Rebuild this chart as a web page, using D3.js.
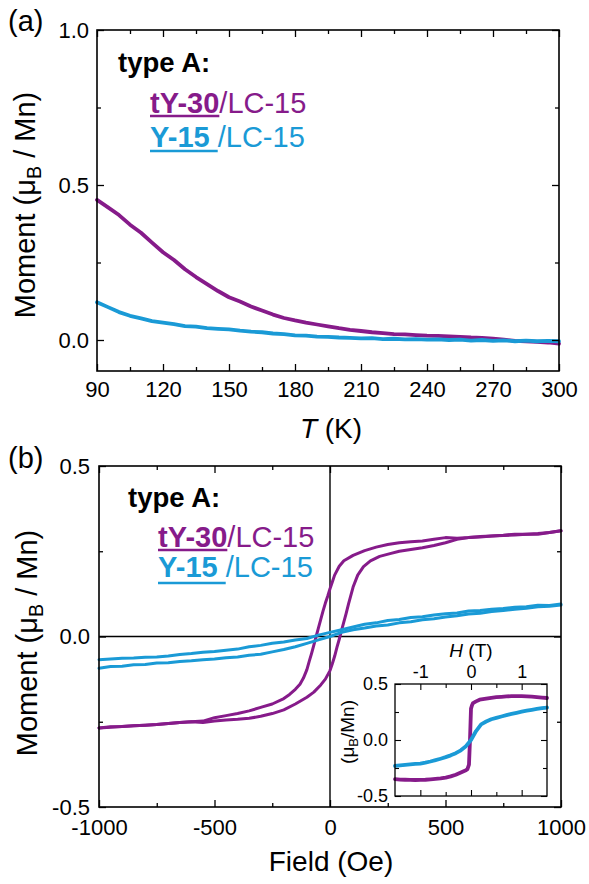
<!DOCTYPE html>
<html>
<head>
<meta charset="utf-8">
<script src="https://cdn.jsdelivr.net/npm/d3@7"></script>
<style>
  body { margin: 0; background: #fff; }
  svg text { font-family: "Liberation Sans", Arial, sans-serif; }
</style>
</head>
<body>
<div id="chart"></div>
<script>
// ---- data ----
const purple = "#861b8a", blue = "#1a9ad6";
const legendTitle = "type A:";
const sampleNames = ["tY-30", "Y-15 "];
const sampleSuffix = "/LC-15";

// (a) moment vs temperature
const tempK = [90,95,100,105,110,115,120,125,130,135,140,145,150,155,160,165,170,175,180,185,190,195,200,
  205,210,215,220,225,230,235,240,245,250,255,260,265,270,275,280,285,290,295,300];
const momentTY30 = [0.452,0.428,0.403,0.372,0.346,0.314,0.283,0.258,0.228,0.203,0.180,0.158,0.138,0.124,0.108,
  0.095,0.082,0.071,0.063,0.056,0.050,0.044,0.038,0.033,0.029,0.025,0.022,0.019,0.018,0.016,0.014,0.013,0.012,
  0.010,0.008,0.007,0.004,0.001,-0.003,-0.004,-0.006,-0.008,-0.012];
const momentY15 = [0.122,0.106,0.090,0.078,0.070,0.061,0.056,0.051,0.045,0.043,0.038,0.036,0.034,0.030,0.027,
  0.025,0.021,0.019,0.015,0.014,0.011,0.010,0.008,0.007,0.005,0.006,0.003,0.004,0.002,0.003,0.001,0.002,0.000,
  0.001,-0.002,0.000,-0.003,-0.001,-0.004,-0.002,-0.004,-0.003,-0.004];

// (b) hysteresis loops, field in Oe
const fieldTY30Down = [1000,950,900,850,800,750,700,650,600,550,500,450,400,350,300,250,200,150,100,60,40,20,10,0,
  -10,-20,-30,-40,-50,-60,-70,-80,-90,-100,-115,-130,-150,-175,-200,-250,-300,-350,-400,-450,-500,-550,-600,
  -650,-700,-750,-800,-850,-900,-950,-1000];
const momentTY30Down = [0.31,0.305,0.30,0.30,0.298,0.296,0.295,0.293,0.29,0.288,0.29,0.285,0.28,0.278,0.275,0.27,
  0.262,0.252,0.238,0.222,0.206,0.18,0.16,0.14,0.118,0.098,0.075,0.05,0.025,0.0,-0.025,-0.05,-0.073,-0.097,
  -0.122,-0.14,-0.155,-0.17,-0.182,-0.198,-0.208,-0.218,-0.226,-0.232,-0.238,-0.248,-0.25,-0.252,-0.255,-0.258,
  -0.26,-0.262,-0.264,-0.265,-0.268];
const fieldTY30Up = [-1000,-950,-900,-850,-800,-750,-700,-650,-600,-550,-500,-450,-400,-350,-300,-250,-200,-150,
  -100,-70,-40,-20,0,10,20,30,40,50,60,70,80,90,100,120,145,175,215,260,300,350,400,450,500,550,600,650,700,
  750,800,850,900,950,1000];
const momentTY30Up = [-0.268,-0.266,-0.264,-0.262,-0.26,-0.258,-0.255,-0.252,-0.25,-0.252,-0.248,-0.245,-0.243,
  -0.24,-0.234,-0.226,-0.215,-0.198,-0.178,-0.163,-0.142,-0.125,-0.1,-0.08,-0.058,-0.032,-0.008,0.018,0.043,
  0.068,0.095,0.12,0.145,0.18,0.205,0.222,0.235,0.243,0.25,0.255,0.26,0.267,0.275,0.285,0.29,0.292,0.295,
  0.297,0.30,0.30,0.302,0.305,0.31];
const fieldY15Down = [1000,950,900,850,800,750,700,650,600,550,500,450,400,350,300,250,200,150,100,50,0,
  -50,-100,-150,-200,-250,-300,-350,-400,-450,-500,-550,-600,-650,-700,-750,-800,-850,-900,-950,-1000];
const momentY15Down = [0.095,0.091,0.092,0.087,0.086,0.082,0.080,0.076,0.075,0.069,0.067,0.063,0.058,0.056,
  0.050,0.047,0.040,0.036,0.028,0.020,0.012,0.004,-0.006,-0.010,-0.016,-0.020,-0.026,-0.030,-0.037,-0.040,
  -0.044,-0.046,-0.050,-0.053,-0.057,-0.060,-0.061,-0.063,-0.064,-0.066,-0.068];
const fieldY15Up = [-1000,-950,-900,-850,-800,-750,-700,-650,-600,-550,-500,-450,-400,-350,-300,-250,-200,-150,
  -100,-50,0,50,100,150,200,250,300,350,400,450,500,550,600,650,700,750,800,850,900,950,1000];
const momentY15Up = [-0.093,-0.088,-0.087,-0.083,-0.082,-0.078,-0.077,-0.073,-0.071,-0.068,-0.066,-0.062,-0.060,
  -0.055,-0.052,-0.045,-0.038,-0.030,-0.020,-0.010,0.000,0.012,0.020,0.025,0.031,0.034,0.040,0.043,0.049,
  0.052,0.057,0.061,0.066,0.068,0.073,0.076,0.080,0.083,0.087,0.089,0.092];

// inset, field in tesla
const insetFieldTY30 = [-1.5,-1.4,-1.3,-1.2,-1.1,-1.0,-0.9,-0.8,-0.7,-0.6,-0.5,-0.4,-0.3,-0.2,-0.1,-0.07,-0.04,
  -0.02,0.0,0.02,0.04,0.1,0.17,0.3,0.4,0.5,0.6,0.7,0.8,0.9,1.0,1.1,1.2,1.3,1.4,1.5];
const insetMomentTY30 = [-0.35,-0.353,-0.355,-0.356,-0.357,-0.356,-0.355,-0.352,-0.348,-0.343,-0.335,-0.325,
  -0.31,-0.29,-0.27,-0.26,-0.22,0.0,0.28,0.31,0.33,0.345,0.36,0.37,0.377,0.382,0.386,0.389,0.391,0.392,0.392,
  0.39,0.387,0.383,0.379,0.375];
const insetFieldY15 = [-1.5,-1.4,-1.3,-1.2,-1.1,-1.0,-0.9,-0.8,-0.7,-0.6,-0.5,-0.4,-0.3,-0.2,-0.1,0.0,0.1,0.2,
  0.3,0.4,0.5,0.6,0.7,0.8,0.9,1.0,1.1,1.2,1.3,1.4,1.5];
const insetMomentY15 = [-0.232,-0.226,-0.222,-0.218,-0.214,-0.21,-0.202,-0.192,-0.18,-0.167,-0.153,-0.137,
  -0.118,-0.092,-0.055,0.0,0.08,0.14,0.165,0.185,0.198,0.21,0.222,0.233,0.243,0.253,0.262,0.27,0.277,0.284,0.29];

// ---- drawing ----
const W = 589, H = 884;
const svg = d3.select("#chart").append("svg").attr("width", W).attr("height", H);

const fmt1 = d => d.toFixed(1);
const fmt0 = d => String(d);

// frame with inward ticks on four sides
function frameAxes(x, y, o) {
  const [x0, x1] = x.range(), [y0, y1] = y.range();
  const g = svg.append("g");
  const add = (axis, tr, vals, size, fmt, pad) => {
    const a = g.append("g").attr("transform", tr)
      .call(axis.tickValues(vals).tickSize(-size).tickPadding(pad).tickFormat(fmt));
    a.select(".domain").remove();
    a.selectAll("line").attr("stroke", "#000").attr("stroke-width", o.tickW);
    a.selectAll("text").attr("fill", "#000").attr("font-size", o.font);
    return a;
  };
  add(d3.axisBottom(x), `translate(0,${y0})`, o.xMajor, o.major, o.bottomFmt || (() => ""), o.padX);
  add(d3.axisBottom(x), `translate(0,${y0})`, o.xMinor, o.minor, () => "", 0);
  add(d3.axisTop(x), `translate(0,${y1})`, o.xMajor, o.major, o.topFmt || (() => ""), o.padX);
  add(d3.axisTop(x), `translate(0,${y1})`, o.xMinor, o.minor, () => "", 0);
  add(d3.axisLeft(y), `translate(${x0},0)`, o.yMajor, o.major, fmt1, o.padY);
  add(d3.axisLeft(y), `translate(${x0},0)`, o.yMinor, o.minor, () => "", 0);
  add(d3.axisRight(y), `translate(${x1},0)`, o.yMajor, o.major, () => "", 0);
  add(d3.axisRight(y), `translate(${x1},0)`, o.yMinor, o.minor, () => "", 0);
  g.append("rect").attr("x", x0).attr("y", y1).attr("width", x1 - x0).attr("height", y0 - y1)
    .attr("fill", "none").attr("stroke", "#000").attr("stroke-width", o.frameW);
}

function curve(xs, ys, x, y, color, w) {
  const pts = xs.map((v, i) => [v, ys[i]]);
  svg.append("path").datum(pts)
    .attr("d", d3.line().x(d => x(d[0])).y(d => y(d[1])))
    .attr("fill", "none").attr("stroke", color).attr("stroke-width", w)
    .attr("stroke-linejoin", "round").attr("stroke-linecap", "round");
}

function momentLabel(cx, cy, size, compact) {
  const t = svg.append("text").attr("transform", `translate(${cx},${cy}) rotate(-90)`)
    .attr("text-anchor", "middle").attr("font-size", size);
  t.append("tspan").text(compact ? "(\u03bc" : "Moment (\u03bc");
  t.append("tspan").attr("font-size", size * 0.68).attr("dy", size * 0.22).text("B");
  t.append("tspan").attr("dy", -size * 0.22).text(compact ? "/Mn)" : " / Mn)");
}

function legend(x0, yTitle, rows) {
  svg.append("text").attr("x", x0).attr("y", yTitle).attr("font-weight", "bold")
    .attr("font-size", 27.5).text(legendTitle);
  rows.forEach((r, i) => {
    const color = i === 0 ? purple : blue;
    const t = svg.append("text").attr("x", r.x).attr("y", r.y).attr("font-size", 29)
      .attr("fill", color).style("white-space", "pre");
    const b = t.append("tspan").attr("font-weight", "bold").text(sampleNames[i]);
    t.append("tspan").text(sampleSuffix);
    const bw = b.node().getComputedTextLength();
    svg.append("line").attr("x1", r.x).attr("x2", r.x + bw)
      .attr("y1", r.y + r.ul).attr("y2", r.y + r.ul)
      .attr("stroke", color).attr("stroke-width", 2.4);
  });
}

// ---- panel (a) ----
const xa = d3.scaleLinear().domain([90, 300]).range([97, 559]);
const ya = d3.scaleLinear().domain([-0.1, 1.0]).range([371, 30]);
curve(tempK, momentTY30, xa, ya, purple, 3.8);
curve(tempK, momentY15, xa, ya, blue, 3.8);
frameAxes(xa, ya, {
  xMajor: d3.range(90, 301, 30), xMinor: d3.range(105, 300, 30),
  yMajor: [0, 0.5, 1.0], yMinor: [0.25, 0.75],
  major: 7, minor: 4, tickW: 1.3, frameW: 1.6, font: 22, padX: 10, padY: 8, bottomFmt: fmt0
});
legend(118, 72, [{x: 150, y: 113, ul: 3}, {x: 150, y: 147, ul: 4}]);
svg.append("text").attr("x", 8).attr("y", 31).attr("font-size", 29).text("(a)");
momentLabel(35, 205, 29, false);
const ta = svg.append("text").attr("x", 331).attr("y", 438).attr("text-anchor", "middle").attr("font-size", 28);
ta.append("tspan").attr("font-style", "italic").text("T");
ta.append("tspan").text(" (K)");

// ---- panel (b) ----
const xb = d3.scaleLinear().domain([-1000, 1000]).range([99, 561]);
const yb = d3.scaleLinear().domain([-0.5, 0.5]).range([807, 466]);
svg.append("line").attr("x1", xb(-1000)).attr("x2", xb(1000)).attr("y1", yb(0)).attr("y2", yb(0))
  .attr("stroke", "#000").attr("stroke-width", 1.4);
svg.append("line").attr("x1", xb(0)).attr("x2", xb(0)).attr("y1", yb(-0.5)).attr("y2", yb(0.5))
  .attr("stroke", "#000").attr("stroke-width", 1.4);
curve(fieldTY30Down, momentTY30Down, xb, yb, purple, 3);
curve(fieldTY30Up, momentTY30Up, xb, yb, purple, 3);
curve(fieldY15Down, momentY15Down, xb, yb, blue, 3);
curve(fieldY15Up, momentY15Up, xb, yb, blue, 3);
frameAxes(xb, yb, {
  xMajor: [-1000, -500, 0, 500, 1000], xMinor: [-750, -250, 250, 750],
  yMajor: [-0.5, 0, 0.5], yMinor: [-0.25, 0.25],
  major: 7, minor: 4, tickW: 1.3, frameW: 1.6, font: 22, padX: 12, padY: 9, bottomFmt: fmt0
});
legend(128, 507, [{x: 158, y: 547, ul: 3}, {x: 158, y: 577, ul: 6}]);
svg.append("text").attr("x", 8).attr("y", 468).attr("font-size", 29).text("(b)");
momentLabel(37, 643, 29, false);
svg.append("text").attr("x", 331).attr("y", 871).attr("text-anchor", "middle").attr("font-size", 28)
  .text("Field (Oe)");

// ---- inset ----
const xi = d3.scaleLinear().domain([-1.5, 1.5]).range([395, 547]);
const yi = d3.scaleLinear().domain([-0.5, 0.5]).range([796, 684]);
svg.append("rect").attr("x", 395).attr("y", 684).attr("width", 152).attr("height", 112).attr("fill", "#fff");
curve(insetFieldTY30, insetMomentTY30, xi, yi, purple, 3.8);
curve(insetFieldY15, insetMomentY15, xi, yi, blue, 3.8);
frameAxes(xi, yi, {
  xMajor: [-1, 0, 1], xMinor: [-0.5, 0.5],
  yMajor: [-0.5, 0, 0.5], yMinor: [-0.25, 0.25],
  major: 6, minor: 4, tickW: 1.1, frameW: 1.3, font: 18, padX: 6, padY: 7, topFmt: fmt0
});
momentLabel(354, 732, 19, true);
const ti = svg.append("text").attr("x", 471).attr("y", 657).attr("text-anchor", "middle").attr("font-size", 19);
ti.append("tspan").attr("font-style", "italic").text("H");
ti.append("tspan").text(" (T)");
</script>
</body>
</html>
